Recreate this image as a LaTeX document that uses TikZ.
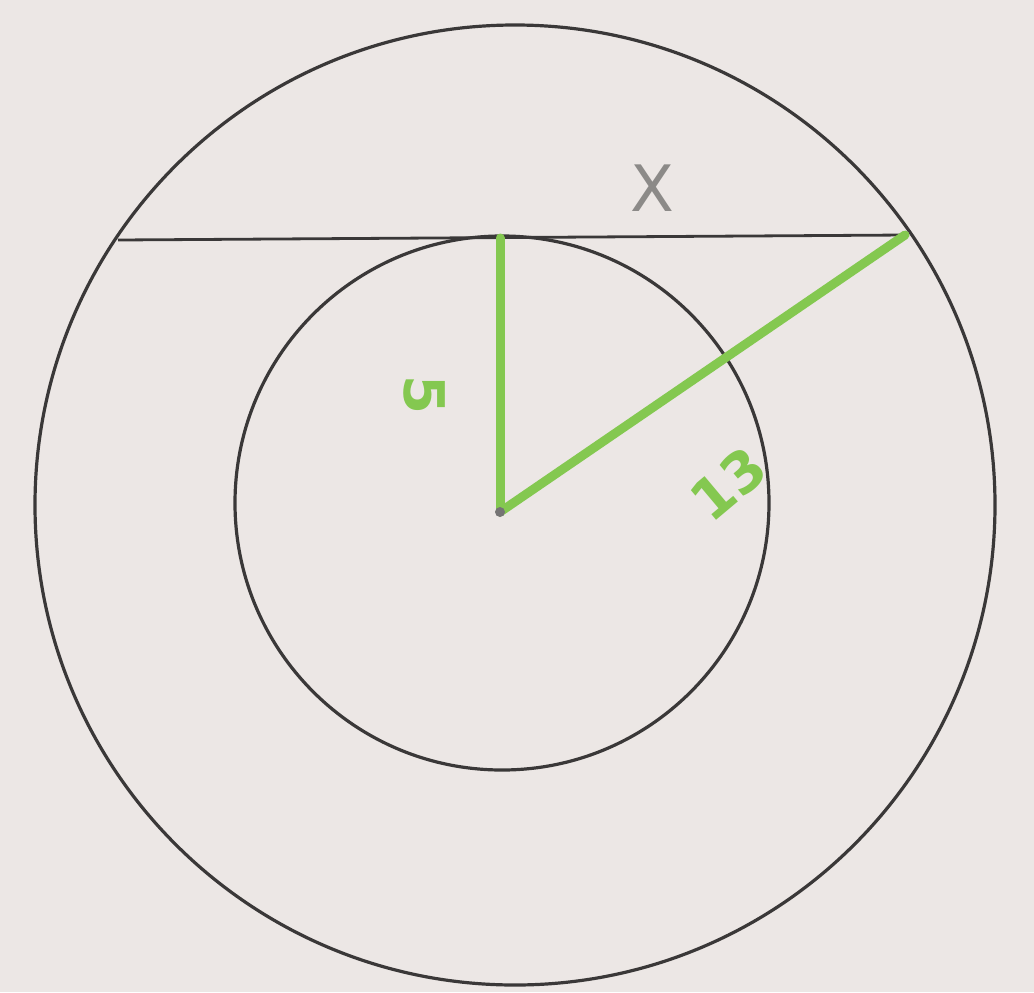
\documentclass[tikz,border=0pt]{standalone}
\usepackage{fontspec}
\setmainfont{DejaVu Sans}
\definecolor{paper}{HTML}{ECE7E5}
\definecolor{ink}{HTML}{3A3838}
\definecolor{grn}{HTML}{84C850}
\definecolor{xgray}{HTML}{8C8A88}
\begin{document}
\begin{tikzpicture}[x=0.5pt,y=-0.5pt,
  circ/.style={draw=ink,line width=1.6pt},
  seg/.style={draw=ink,line width=1.4pt},
  gline/.style={draw=grn,line width=4.5pt,line cap=round},
  glabel/.style={text=grn,font=\bfseries\fontsize{28}{28}\selectfont,inner sep=1pt}]
\fill[paper] (0,0) rectangle (1034,992);
\useasboundingbox (0,0) rectangle (1034,992);
\coordinate (O) at (500,512);
\coordinate (T) at (500,238);
\coordinate (A) at (118,240);
\coordinate (B) at (905,235);
\draw[circ] (515,505) circle (480);
\draw[circ] (502,503) circle (267);
\draw[seg] (A) -- (B);
\draw[gline] (O) -- (T);
\draw[gline] (O) -- (B);
\fill[ink!70] (O) circle (5);
\node[glabel,rotate=-90] (five) at (425,395) {5};
\node[glabel,rotate=40] (thirteen) at (728,484) {13};
\node[text=xgray,font=\fontsize{32}{32}\selectfont] (x) at (652,188) {X};
\end{tikzpicture}
\end{document}
